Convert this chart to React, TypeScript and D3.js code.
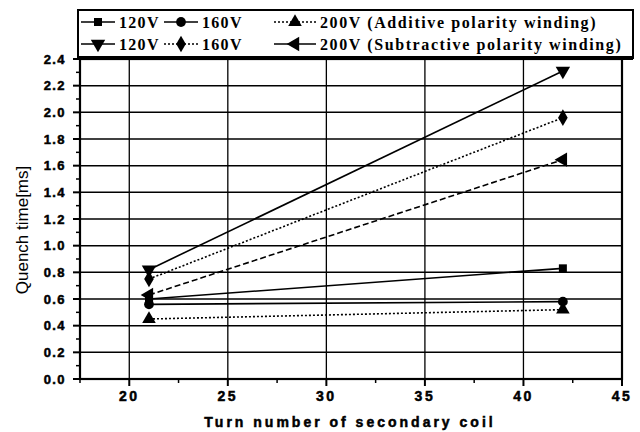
import React from "react";
import * as d3 from "d3";

const turns = [21, 42];
const add120 = [0.6, 0.83];
const add160 = [0.56, 0.58];
const add200 = [0.45, 0.52];
const sub120 = [0.82, 2.31];
const sub160 = [0.75, 1.96];
const sub200 = [0.63, 1.645];

const xTicks = [20, 25, 30, 35, 40, 45];
const yTicks = [0, 0.2, 0.4, 0.6, 0.8, 1.0, 1.2, 1.4, 1.6, 1.8, 2.0, 2.2, 2.4];

const seriesNames = ["120V", "160V", "200V (Additive polarity winding)", "120V", "160V", "200V (Subtractive polarity winding)"];

type S = { name: string; values: number[]; symbol: any; rotate: number; dash: string; legDash: string; size: number };

const series: S[] = [
  { name: seriesNames[0], values: add120, symbol: d3.symbolSquare, rotate: 0, dash: "", legDash: "", size: 64 },
  { name: seriesNames[1], values: add160, symbol: d3.symbolCircle, rotate: 0, dash: "", legDash: "", size: 75 },
  { name: seriesNames[2], values: add200, symbol: d3.symbolTriangle, rotate: 0, dash: "2,2", legDash: "2,2", size: 80 },
  { name: seriesNames[3], values: sub120, symbol: d3.symbolTriangle, rotate: 180, dash: "", legDash: "", size: 90 },
  { name: seriesNames[4], values: sub160, symbol: d3.symbolDiamond, rotate: 0, dash: "2,2", legDash: "2,2", size: 80 },
  { name: seriesNames[5], values: sub200, symbol: d3.symbolTriangle, rotate: -90, dash: "6,3", legDash: "", size: 90 },
];

const L = 80, R = 622, T = 59, B = 379;

export default function App() {
  const x = d3.scaleLinear().domain([17.5, 45]).range([L, R]);
  const y = d3.scaleLinear().domain([0, 2.4]).range([B, T]);
  const line = d3.line<[number, number]>().x((d) => x(d[0])).y((d) => y(d[1]));
  const minorY = d3.range(0.1, 2.4, 0.2);
  const minorX = [17.5, 22.5, 27.5, 32.5, 37.5, 42.5];
  const tickFont = "'Liberation Sans', Arial, sans-serif";
  const legFont = "'Liberation Serif', 'Times New Roman', serif";

  const legendRows = [
    [0, 1, 2],
    [3, 4, 5],
  ];
  const symX = [81, 164, 274];
  const symW = [34, 34, 42];
  const rowY = [22, 44];

  return (
    <div style={{ position: "fixed", left: 0, top: 0 }}>
      <svg width={640} height={432} style={{ display: "block", background: "#fff" }}>
        {yTicks.slice(1, -1).map((t) => (
          <line key={"gy" + t} x1={L} x2={R} y1={y(t)} y2={y(t)} stroke="#000" strokeWidth={1.5} />
        ))}
        {xTicks.slice(0, -1).map((t) => (
          <line key={"gx" + t} x1={x(t)} x2={x(t)} y1={T} y2={B} stroke="#000" strokeWidth={1.3} />
        ))}
        <rect x={L} y={T} width={R - L} height={B - T} fill="none" stroke="#000" strokeWidth={2.2} />
        {yTicks.map((t) => (
          <g key={"ty" + t}>
            <line x1={L - 7} x2={L} y1={y(t)} y2={y(t)} stroke="#000" strokeWidth={2} />
            <text x={66} y={y(t)} dy="0.36em" textAnchor="end" fontFamily={tickFont} fontWeight="bold" fontSize={13} letterSpacing={1.4} stroke="#000" strokeWidth={0.5}>
              {t.toFixed(1)}
            </text>
          </g>
        ))}
        {minorY.map((t) => (
          <line key={"my" + t} x1={L - 4} x2={L} y1={y(t)} y2={y(t)} stroke="#000" strokeWidth={1.5} />
        ))}
        {xTicks.map((t) => (
          <g key={"tx" + t}>
            <line x1={x(t)} x2={x(t)} y1={B} y2={B + 7} stroke="#000" strokeWidth={2} />
            <text x={x(t)} y={401} textAnchor="middle" fontFamily={tickFont} fontWeight="bold" fontSize={14} letterSpacing={2.5} stroke="#000" strokeWidth={0.5}>
              {t}
            </text>
          </g>
        ))}
        {minorX.map((t) => (
          <line key={"mx" + t} x1={x(t)} x2={x(t)} y1={B} y2={B + 4} stroke="#000" strokeWidth={1.5} />
        ))}
        <text x={350} y={427} textAnchor="middle" fontFamily={tickFont} fontWeight="bold" fontSize={14} letterSpacing={3} stroke="#000" strokeWidth={0.5}>
          Turn number of secondary coil
        </text>
        <text transform={`translate(28,230) rotate(-90)`} textAnchor="middle" fontFamily={tickFont} fontSize={17}>
          Quench time[ms]
        </text>
        {series.map((s, i) => {
          const pts: [number, number][] = turns.map((t, j) => [t, s.values[j]]);
          return (
            <g key={"s" + i}>
              <path d={line(pts) || ""} fill="none" stroke="#000" strokeWidth={1.6} strokeDasharray={s.dash} />
              {pts.map((p, j) => (
                <path
                  key={j}
                  d={d3.symbol().type(s.symbol).size(s.size)() || ""}
                  transform={`translate(${x(p[0])},${y(p[1])}) rotate(${s.rotate})`}
                  fill="#000"
                />
              ))}
            </g>
          );
        })}
        <rect x={78} y={10} width={555} height={48} fill="#fff" stroke="#000" strokeWidth={2} />
        <line x1={78} x2={633} y1={58} y2={58} stroke="#000" strokeWidth={4} />
        {legendRows.map((row, ri) =>
          row.map((si, ci) => {
            const s = series[si];
            const sx = symX[ci];
            const w = symW[ci];
            const cy = rowY[ri];
            return (
              <g key={"lg" + si}>
                <line x1={sx} x2={sx + w} y1={cy} y2={cy} stroke="#000" strokeWidth={1.6} strokeDasharray={s.legDash} />
                <path
                  d={d3.symbol().type(s.symbol).size(s.size)() || ""}
                  transform={`translate(${sx + w / 2},${cy}) rotate(${s.rotate})`}
                  fill="#000"
                />
                <text x={sx + w + 4} y={cy} dy="0.35em" fontFamily={legFont} fontWeight="bold" fontSize={16} letterSpacing={ci === 2 ? 1.6 : 1.3}>
                  {s.name}
                </text>
              </g>
            );
          })
        )}
      </svg>
    </div>
  );
}
